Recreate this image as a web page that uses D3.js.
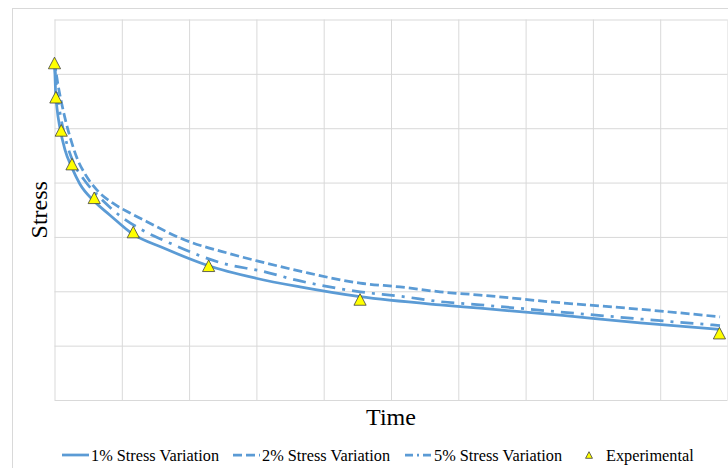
<!DOCTYPE html>
<html>
<head>
<meta charset="utf-8">
<script src="https://cdn.jsdelivr.net/npm/d3@7"></script>
<style>
  body { margin: 0; background: #fff; }
  svg text { font-family: "Liberation Serif", serif; }
</style>
</head>
<body>
<div class="chart"></div>
<script>
const width = 728
const height = 468

// values (time / stress, unitless)
const time1 = [0, 0.015, 0.037, 0.082, 0.156, 0.26, 0.379, 0.587, 0.825, 1.166, 1.612, 2.266, 2.994, 3.648, 4.54, 5.728, 6.323, 7.511, 8.7, 9.889];
const stress1 = [6.22, 5.70, 5.37, 5.00, 4.60, 4.27, 3.97, 3.66, 3.40, 3.05, 2.80, 2.48, 2.24, 2.08, 1.90, 1.75, 1.69, 1.56, 1.42, 1.30];

const time2 = [0, 0.052, 0.111, 0.171, 0.245, 0.334, 0.453, 0.632, 0.869, 1.122, 1.374, 1.865, 2.608, 3.009, 3.648, 4.54, 5.134, 5.728, 6.323, 7.511, 8.7, 9.889];
const stress2 = [6.22, 5.80, 5.43, 5.11, 4.78, 4.45, 4.16, 3.86, 3.62, 3.44, 3.28, 2.98, 2.69, 2.56, 2.37, 2.15, 2.08, 1.99, 1.93, 1.79, 1.67, 1.53];

const time5 = [0, 0.030, 0.074, 0.126, 0.201, 0.305, 0.453, 0.676, 0.973, 1.27, 1.672, 2.608, 3.009, 3.648, 4.54, 5.134, 5.728, 6.323, 7.511, 8.7, 9.889];
const stress5 = [6.22, 5.74, 5.34, 5.00, 4.64, 4.31, 4.03, 3.72, 3.39, 3.15, 2.91, 2.48, 2.39, 2.19, 1.99, 1.91, 1.81, 1.75, 1.62, 1.49, 1.37];

const timeExp = [0, 0.02, 0.10, 0.26, 0.59, 1.17, 2.29, 4.54, 9.88];
const stressExp = [6.20, 5.57, 4.96, 4.34, 3.72, 3.09, 2.47, 1.85, 1.23];

const seriesNames = ["1% Stress Variation", "2% Stress Variation", "5% Stress Variation", "Experimental"];

const margin = {top: 19.5, right: 0.5, bottom: 68, left: 54.5};
const blue = "#5b9bd5";

const svg = d3.create("svg")
  .attr("width", width)
  .attr("height", height);

svg.append("rect")
  .attr("width", width).attr("height", height).attr("fill", "#fff");

// chart area border
svg.append("rect")
  .attr("x", 12.5).attr("y", 8.5)
  .attr("width", width).attr("height", height)
  .attr("fill", "none")
  .attr("stroke", "#d9d9d9");

const x = d3.scaleLinear()
  .domain([0, 10])
  .range([margin.left, width - margin.right]);

const y = d3.scaleLinear()
  .domain([0, 7])
  .range([height - margin.bottom, margin.top]);

// gridlines
svg.append("g")
  .attr("transform", `translate(0,${height - margin.bottom})`)
  .call(d3.axisBottom(x).ticks(10).tickSize(-(height - margin.bottom - margin.top)).tickFormat(""))
  .call(g => g.select(".domain").remove())
  .call(g => g.selectAll("line").attr("stroke", "#d9d9d9"));

svg.append("g")
  .attr("transform", `translate(${margin.left},0)`)
  .call(d3.axisLeft(y).ticks(7).tickSize(-(width - margin.left - margin.right)).tickFormat(""))
  .call(g => g.select(".domain").remove())
  .call(g => g.selectAll("line").attr("stroke", "#d9d9d9"));

const line = d3.line()
  .x(d => x(d[0]))
  .y(d => y(d[1]))
  .curve(d3.curveMonotoneX);

const curves = [
  {t: time2, s: stress2, dash: "9,4"},
  {t: time5, s: stress5, dash: "13,7,3,7"},
  {t: time1, s: stress1, dash: null}
];

svg.append("g")
  .selectAll("path")
  .data(curves)
  .join("path")
  .attr("fill", "none")
  .attr("stroke", blue)
  .attr("stroke-width", 2.75)
  .attr("stroke-dasharray", d => d.dash)
  .attr("d", d => line(d3.zip(d.t, d.s)));

const tri = (s) => `M0,${-s}L${s * 1.05},${s}L${-s * 1.05},${s}Z`;

svg.append("g")
  .selectAll("path")
  .data(d3.zip(timeExp, stressExp))
  .join("path")
  .attr("transform", d => `translate(${x(d[0])},${y(d[1])})`)
  .attr("d", tri(5.8))
  .attr("fill", "#ffff00")
  .attr("stroke", "#404040")
  .attr("stroke-width", 0.8);

// axis titles
svg.append("text")
  .attr("x", (margin.left + width - margin.right) / 2)
  .attr("y", 425)
  .attr("text-anchor", "middle")
  .style("font-size", "24px")
  .text("Time");

svg.append("text")
  .attr("transform", `translate(47,${(margin.top + height - margin.bottom) / 2}) rotate(-90)`)
  .attr("text-anchor", "middle")
  .style("font-size", "24px")
  .text("Stress");

// legend
const legendX = [62, 233, 405, 582];
const legendY = 455;
const legend = svg.append("g");

seriesNames.forEach((name, i) => {
  const g = legend.append("g").attr("transform", `translate(${legendX[i]},${legendY})`);
  if (i < 3) {
    g.append("line")
      .attr("x1", 0).attr("x2", 27)
      .attr("stroke", blue)
      .attr("stroke-width", 2.75)
      .attr("stroke-dasharray", [null, "9,4", "8,4,2,4"][i]);
  } else {
    g.append("path")
      .attr("transform", "translate(7,0)")
      .attr("d", tri(3.3))
      .attr("fill", "#ffff00")
      .attr("stroke", "#404040")
      .attr("stroke-width", 0.8);
  }
  g.append("text")
    .attr("x", i < 3 ? 29 : 24).attr("y", 5.5)
    .style("font-size", "16.3px")
    .text(name);
});

document.querySelector(".chart").append(svg.node());
</script>
</body>
</html>
